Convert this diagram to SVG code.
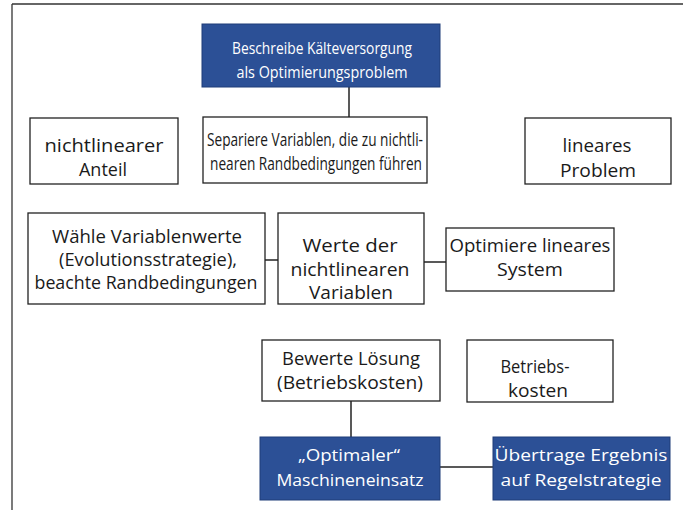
<svg xmlns="http://www.w3.org/2000/svg" width="687" height="513" viewBox="0 0 687 513">
<style>
.box{fill:#fff;stroke:#222;stroke-width:1.3}
.blue{fill:#2c5096;stroke:#1f3d78;stroke-width:1}
.t{font-family:"Open Sans",Lato,sans-serif;font-size:18.5px;fill:#1a1a1a;text-anchor:middle}
.w{font-family:"Open Sans",Lato,sans-serif;font-size:17px;fill:#fff;text-anchor:middle}
.c{stroke:#222;stroke-width:1.5;fill:none}
</style>
<rect width="687" height="513" fill="#fff"/>
<g id="frame">
<line x1="12" y1="4" x2="683" y2="4" stroke="#333" stroke-width="1.3"/>
<line x1="12" y1="4" x2="12" y2="510" stroke="#333" stroke-width="1.3"/>
</g>
<g id="connectors">
<line class="c" x1="349" y1="87" x2="349" y2="117"/>
<line class="c" x1="265" y1="260" x2="278" y2="260"/>
<line class="c" x1="424" y1="262" x2="446" y2="262"/>
<line class="c" x1="351" y1="401" x2="351" y2="437"/>
<line class="c" x1="440" y1="467" x2="493" y2="467"/>
</g>
<g id="n1"><rect class="blue" x="202" y="24" width="238" height="63"/>
<text class="w" x="322" y="54" textLength="180" lengthAdjust="spacingAndGlyphs">Beschreibe Kälteversorgung</text>
<text class="w" x="322" y="78" textLength="171" lengthAdjust="spacingAndGlyphs">als Optimierungsproblem</text></g>
<g id="n2"><rect class="box" x="30" y="118" width="148" height="66"/>
<text class="t" x="104" y="152" textLength="119" lengthAdjust="spacingAndGlyphs">nichtlinearer</text>
<text class="t" x="103" y="176" textLength="48" lengthAdjust="spacingAndGlyphs">Anteil</text></g>
<g id="n3"><rect class="box" x="203" y="117" width="224" height="66"/>
<text class="t" x="315" y="146" textLength="216" lengthAdjust="spacingAndGlyphs">Separiere Variablen, die zu nichtli-</text>
<text class="t" x="316" y="170" textLength="212" lengthAdjust="spacingAndGlyphs">nearen Randbedingungen führen</text></g>
<g id="n4"><rect class="box" x="525" y="118" width="146" height="66"/>
<text class="t" x="597" y="152" textLength="69" lengthAdjust="spacingAndGlyphs">lineares</text>
<text class="t" x="598" y="177" textLength="76" lengthAdjust="spacingAndGlyphs">Problem</text></g>
<g id="n5"><rect class="box" x="28" y="213" width="237" height="91"/>
<text class="t" x="147" y="243" textLength="190" lengthAdjust="spacingAndGlyphs">Wähle Variablenwerte</text>
<text class="t" x="148" y="266" textLength="178" lengthAdjust="spacingAndGlyphs">(Evolutionsstrategie),</text>
<text class="t" x="146" y="289" textLength="223" lengthAdjust="spacingAndGlyphs">beachte Randbedingungen</text></g>
<g id="n6"><rect class="box" x="278" y="213" width="146" height="91"/>
<text class="t" x="350" y="252" textLength="95" lengthAdjust="spacingAndGlyphs">Werte der</text>
<text class="t" x="350" y="276" textLength="119" lengthAdjust="spacingAndGlyphs">nichtlinearen</text>
<text class="t" x="351" y="299" textLength="84" lengthAdjust="spacingAndGlyphs">Variablen</text></g>
<g id="n7"><rect class="box" x="446" y="228" width="168" height="63"/>
<text class="t" x="530" y="252" textLength="161" lengthAdjust="spacingAndGlyphs">Optimiere lineares</text>
<text class="t" x="530" y="276" textLength="66" lengthAdjust="spacingAndGlyphs">System</text></g>
<g id="n8"><rect class="box" x="262" y="340" width="178" height="61"/>
<text class="t" x="351" y="365" textLength="138" lengthAdjust="spacingAndGlyphs">Bewerte Lösung</text>
<text class="t" x="350" y="389" textLength="146" lengthAdjust="spacingAndGlyphs">(Betriebskosten)</text></g>
<g id="n9"><rect class="box" x="467" y="340" width="146" height="62"/>
<text class="t" x="535" y="373" textLength="69" lengthAdjust="spacingAndGlyphs">Betriebs-</text>
<text class="t" x="538" y="397" textLength="60" lengthAdjust="spacingAndGlyphs">kosten</text></g>
<g id="n10"><rect class="blue" x="260" y="437" width="180" height="63"/>
<text class="w" x="349" y="461" textLength="102" lengthAdjust="spacingAndGlyphs">„Optimaler“</text>
<text class="w" x="350" y="486" textLength="147" lengthAdjust="spacingAndGlyphs">Maschineneinsatz</text></g>
<g id="n11"><rect class="blue" x="493" y="437" width="177" height="63"/>
<text class="w" x="581" y="461" textLength="173" lengthAdjust="spacingAndGlyphs">Übertrage Ergebnis</text>
<text class="w" x="581" y="486" textLength="161" lengthAdjust="spacingAndGlyphs">auf Regelstrategie</text></g>
</svg>
